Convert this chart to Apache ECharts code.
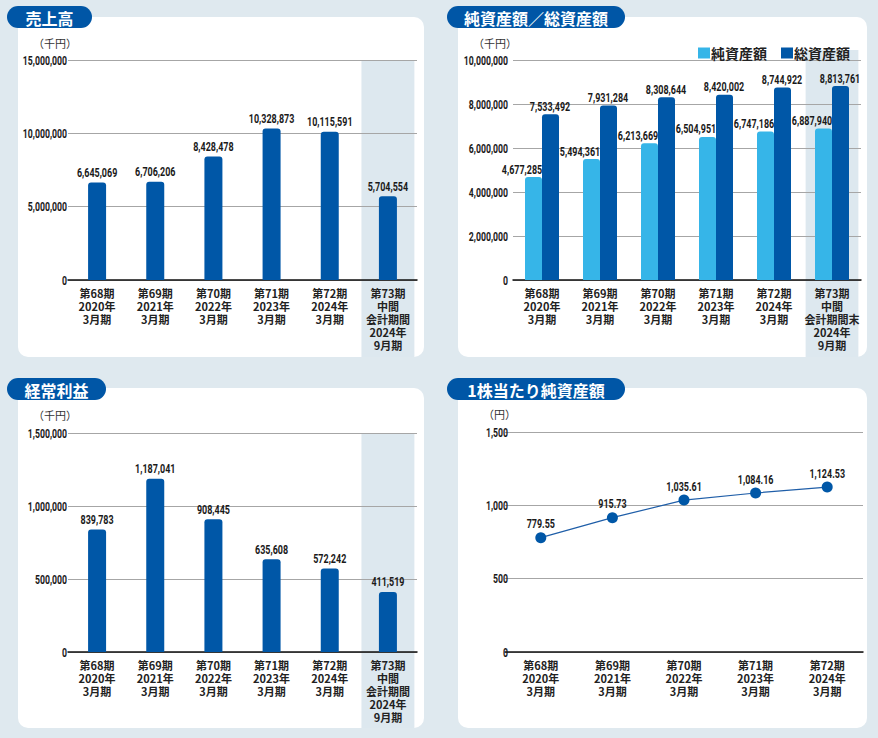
<!DOCTYPE html>
<html><head><meta charset="utf-8">
<script src="https://cdn.jsdelivr.net/npm/echarts@6/dist/echarts.min.js"></script>
<style>html,body{margin:0;padding:0;background:#dfe9ef}#c{width:878px;height:738px}</style>
</head><body><div id="c"></div>
<script>
// ---- data ----
const salesCats = ['第68期\n2020年\n3月期','第69期\n2021年\n3月期','第70期\n2022年\n3月期','第71期\n2023年\n3月期','第72期\n2024年\n3月期','第73期\n中間\n会計期間\n2024年\n9月期'];
const sales = [6645069, 6706206, 8428478, 10328873, 10115591, 5704554];
const salesTicks = [0, 5000000, 10000000, 15000000];
const assetCats = ['第68期\n2020年\n3月期','第69期\n2021年\n3月期','第70期\n2022年\n3月期','第71期\n2023年\n3月期','第72期\n2024年\n3月期','第73期\n中間\n会計期間末\n2024年\n9月期'];
const netAssets = [4677285, 5494361, 6213669, 6504951, 6747186, 6887940];
const totalAssets = [7533492, 7931284, 8308644, 8420002, 8744922, 8813761];
const assetTicks = [0, 2000000, 4000000, 6000000, 8000000, 10000000];
const profitCats = ['第68期\n2020年\n3月期','第69期\n2021年\n3月期','第70期\n2022年\n3月期','第71期\n2023年\n3月期','第72期\n2024年\n3月期','第73期\n中間\n会計期間\n2024年\n9月期'];
const profit = [839783, 1187041, 908445, 635608, 572242, 411519];
const profitTicks = [0, 500000, 1000000, 1500000];
const bpsCats = ['第68期\n2020年\n3月期','第69期\n2021年\n3月期','第70期\n2022年\n3月期','第71期\n2023年\n3月期','第72期\n2024年\n3月期'];
const bps = [779.55, 915.73, 1035.61, 1084.16, 1124.53];
const bpsTicks = [0, 500, 1000, 1500];
const titles = ['売上高','純資産額／総資産額','経常利益','1株当たり純資産額'];
const units = ['（千円）','（千円）','（千円）','（円）'];
const seriesNames = ['純資産額','総資産額'];

// ---- style ----
const NUM = 'Roboto,"Liberation Sans",sans-serif';
const JP = '"Noto Sans CJK JP",sans-serif';
const DARK = '#0057a7';
const LIGHT = '#36b5e8';
const SHADE = '#dde8ef';
const SQ = 0.69; // horizontal squeeze of the condensed numeric labels
const fmt = v => Number(v).toLocaleString('en-US');
const fmt2 = v => Number(v).toLocaleString('en-US',{minimumFractionDigits:2, maximumFractionDigits:2});

const chart = echarts.init(document.getElementById('c'), null, {renderer:'svg'});

const grids = [
  {left:68, top:60, width:349, height:220},
  {left:513, top:60, width:348, height:220},
  {left:68, top:433, width:349, height:219},
  {left:505, top:432, width:358, height:220}
];
const cats = [salesCats, assetCats, profitCats, bpsCats];
const ticks = [salesTicks, assetTicks, profitTicks, bpsTicks];
const yLabelRight = [67, 508, 67, 508];

const xAxes = cats.map((c,i)=>({
  type:'category', gridIndex:i, data:c,
  axisTick:{show:false},
  axisLine:{lineStyle:{color:'#111', width:1.5}},
  axisLabel:{fontFamily:JP, fontSize:11, fontWeight:'bold', color:'#222', lineHeight:13, margin:6, interval:0}
}));
const yAxes = ticks.map((t,i)=>({
  type:'value', gridIndex:i, min:t[0], max:t[t.length-1], interval:t[1]-t[0],
  axisLine:{show:false}, axisTick:{show:false},
  splitLine:{lineStyle:{color:'#a6a6a6', width:1}},
  axisLabel:{show:false}
}));

// numeric labels drawn through the axes' scales (api.coord), squeezed horizontally
function valueLabels(gi, values, dx, dy, f, z){
  return {type:'custom', xAxisIndex:gi, yAxisIndex:gi, silent:true, z:z, clip:false,
    data: values.map((v,i)=>[i,v]),
    renderItem:(params, api)=>{
      const p = api.coord([api.value(0), api.value(1)]);
      return {type:'text', x:p[0]+dx, y:p[1]+dy, scaleX:SQ,
        style:{text:f(api.value(1)), fill:'#1a1a1a', fontFamily:NUM, fontSize:13, fontWeight:'bold', align:'center', verticalAlign:'bottom'}};
    }};
}
function tickLabels(gi){
  return {type:'custom', xAxisIndex:gi, yAxisIndex:gi, silent:true, z:5, clip:false,
    data: ticks[gi].map(v=>[0,v]),
    renderItem:(params, api)=>{
      const p = api.coord([0, api.value(1)]);
      return {type:'text', x:yLabelRight[gi], y:p[1]+0.5, scaleX:0.67,
        style:{text:fmt(api.value(1)), fill:'#1a1a1a', fontFamily:NUM, fontSize:13, fontWeight:'bold', align:'right', verticalAlign:'middle'}};
    }};
}

const panels = [
  {x:18, y:17, w:406, h:340},
  {x:458, y:17, w:409, h:340},
  {x:18, y:388, w:406, h:340},
  {x:458, y:388, w:409, h:340}
];
const pills = [
  {x:7, y:6, w:85, h:22},
  {x:447, y:6, w:178, h:22},
  {x:7, y:378, w:99, h:22},
  {x:447, y:378, w:178, h:22}
];
const unitPos = [[33,43],[473,43],[33,415],[483,414]];

const graphic = [];
panels.forEach((p,i)=>graphic.push({type:'rect', id:'panel'+i, z:-20, shape:{x:p.x,y:p.y,width:p.w,height:p.h,r:10}, style:{fill:'#fff'}}));
pills.forEach((p,i)=>{
  graphic.push({type:'rect', id:'pill'+i, z:-19, shape:{x:p.x,y:p.y,width:p.w,height:p.h,r:11}, style:{fill:'#0056a6'}});
  graphic.push({type:'text', id:'title'+i, z:10, x:p.x+p.w/2, y:p.y+p.h/2+0.5, style:{text:titles[i], fill:'#fff', fontFamily:JP, fontSize:16, fontWeight:'bold', align:'center', verticalAlign:'middle'}});
});
unitPos.forEach((u,i)=>graphic.push({type:'text', id:'unit'+i, z:10, x:u[0], y:u[1], style:{text:units[i], fill:'#333', fontFamily:JP, fontSize:11, align:'left', verticalAlign:'middle'}}));

chart.setOption({
  animation:false,
  backgroundColor:'#dfe9ef',
  grid:grids,
  xAxis:xAxes,
  yAxis:yAxes,
  legend:{data:seriesNames, left:693, top:41, itemWidth:12, itemHeight:11, itemGap:14, icon:'rect',
    textStyle:{fontFamily:JP, fontSize:14, fontWeight:'bold', color:'#222', padding:[0,0,0,-4]}},
  graphic:graphic,
  series:[
    {type:'bar', name:'売上高', xAxisIndex:0, yAxisIndex:0, data:sales, barWidth:18,
      itemStyle:{color:DARK, borderRadius:[3,3,0,0]}},
    {type:'bar', name:seriesNames[0], xAxisIndex:1, yAxisIndex:1, data:netAssets, barWidth:17, barGap:'0%', z:2,
      itemStyle:{color:LIGHT, borderRadius:[3,3,0,0]}},
    {type:'bar', name:seriesNames[1], xAxisIndex:1, yAxisIndex:1, data:totalAssets, barWidth:17, barGap:'0%', z:4,
      itemStyle:{color:DARK, borderRadius:[3,3,0,0]}},
    {type:'bar', name:'経常利益', xAxisIndex:2, yAxisIndex:2, data:profit, barWidth:18,
      itemStyle:{color:DARK, borderRadius:[3,3,0,0]}},
    {type:'line', name:'1株当たり純資産額', xAxisIndex:3, yAxisIndex:3, data:bps,
      symbol:'circle', symbolSize:11, lineStyle:{color:'#1f5ea8', width:1.2}, itemStyle:{color:DARK}},
    valueLabels(0, sales, 0, -3, fmt, 5),
    valueLabels(1, netAssets, -20, -1, fmt, 3),
    valueLabels(1, totalAssets, 8, -1, fmt, 5),
    valueLabels(2, profit, 0, -3, fmt, 5),
    valueLabels(3, bps, 0, -7, fmt2, 5),
    tickLabels(0), tickLabels(1), tickLabels(2), tickLabels(3)
  ]
});

// shaded column behind the last (interim) period, positioned from the axis scale
const shade = [];
[[0, 60, 357], [1, 50, 357], [2, 433, 728]].forEach(([gi, top, bottom])=>{
  const n = cats[gi].length;
  const xl = chart.convertToPixel({xAxisIndex:gi}, n-1);
  const xp = chart.convertToPixel({xAxisIndex:gi}, n-2);
  const w = (xl - xp) * 0.91;
  shade.push({type:'rect', id:'shade'+gi, z:-15, shape:{x:xl - w/2, y:top, width:w, height:bottom-top}, style:{fill:SHADE}});
});
chart.setOption({graphic:shade});
</script></body></html>
